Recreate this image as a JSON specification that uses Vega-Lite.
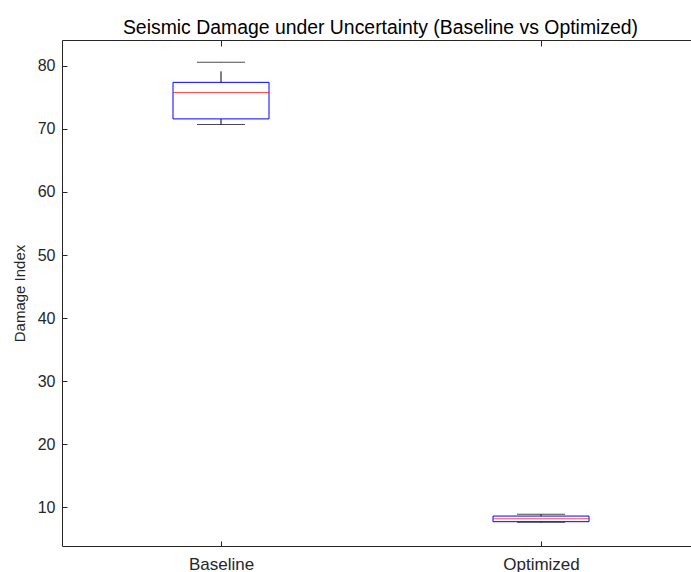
{
  "$schema": "https://vega.github.io/schema/vega-lite/v6.json",
  "autosize": {"type": "none"},
  "padding": {"left": 62, "top": 40, "right": 0, "bottom": 26},
  "width": 629,
  "height": 506,
  "background": "white",
  "title": {
    "text": "Seismic Damage under Uncertainty (Baseline vs Optimized)",
    "font": "Liberation Sans",
    "fontSize": 19.4,
    "fontWeight": "normal",
    "color": "#000000",
    "anchor": "middle",
    "dx": 4,
    "offset": 1
  },
  "data": {
    "values": [
      {"group": "Baseline", "lower": 70.7, "q1": 71.6, "median": 75.8, "q3": 77.4, "upper": 80.6},
      {"group": "Optimized", "lower": 7.57, "q1": 7.68, "median": 8.16, "q3": 8.57, "upper": 8.84}
    ]
  },
  "layer": [
    {
      "mark": {"type": "rule", "color": "#000000", "strokeWidth": 1, "strokeDash": [11, 9]},
      "encoding": {
        "x": {
          "field": "group",
          "type": "nominal",
          "sort": null,
          "scale": {"type": "point", "padding": 0.4828, "align": 0.5146},
          "axis": {
            "title": null,
            "labelAngle": 0,
            "tickSize": -5,
            "labelPadding": 15,
            "labelFontSize": 17,
            "grid": false
          }
        },
        "y": {
          "field": "q3",
          "type": "quantitative",
          "scale": {"domain": [3.82, 84.12], "nice": false, "zero": false},
          "axis": {
            "title": "Damage Index",
            "values": [10, 20, 30, 40, 50, 60, 70, 80],
            "tickSize": -5,
            "labelPadding": 12,
            "titlePadding": 10,
            "grid": false
          }
        },
        "y2": {"field": "upper"}
      }
    },
    {
      "mark": {"type": "rule", "color": "#000000", "strokeWidth": 1, "strokeDash": [11, 9]},
      "encoding": {
        "x": {"field": "group", "type": "nominal", "sort": null, "axis": null},
        "y": {"field": "q1", "type": "quantitative"},
        "y2": {"field": "lower"}
      }
    },
    {
      "mark": {"type": "tick", "color": "#000000", "size": 48, "thickness": 1},
      "encoding": {
        "x": {"field": "group", "type": "nominal", "sort": null, "axis": null},
        "y": {"field": "upper", "type": "quantitative"}
      }
    },
    {
      "mark": {"type": "tick", "color": "#000000", "size": 48, "thickness": 1},
      "encoding": {
        "x": {"field": "group", "type": "nominal", "sort": null, "axis": null},
        "y": {"field": "lower", "type": "quantitative"}
      }
    },
    {
      "mark": {"type": "bar", "fill": null, "fillOpacity": 0, "stroke": "#0000ff", "strokeWidth": 1, "size": 96},
      "encoding": {
        "x": {"field": "group", "type": "nominal", "sort": null, "axis": null},
        "y": {"field": "q1", "type": "quantitative"},
        "y2": {"field": "q3"}
      }
    },
    {
      "mark": {"type": "tick", "color": "#ff0000", "size": 96, "thickness": 1},
      "encoding": {
        "x": {
          "field": "group",
          "type": "nominal",
          "sort": null,
          "axis": {
            "orient": "top",
            "title": null,
            "labels": false,
            "domain": true,
            "ticks": true,
            "tickSize": -6,
            "grid": false
          }
        },
        "y": {"field": "median", "type": "quantitative"}
      }
    }
  ],
  "resolve": {"axis": {"x": "independent"}},
  "config": {
    "view": {"stroke": null},
    "axis": {
      "domainColor": "#262626",
      "tickColor": "#262626",
      "labelColor": "#262626",
      "titleColor": "#262626",
      "labelFont": "Liberation Sans",
      "titleFont": "Liberation Sans",
      "labelFontSize": 16,
      "titleFontSize": 15,
      "titleFontWeight": "normal"
    }
  }
}
